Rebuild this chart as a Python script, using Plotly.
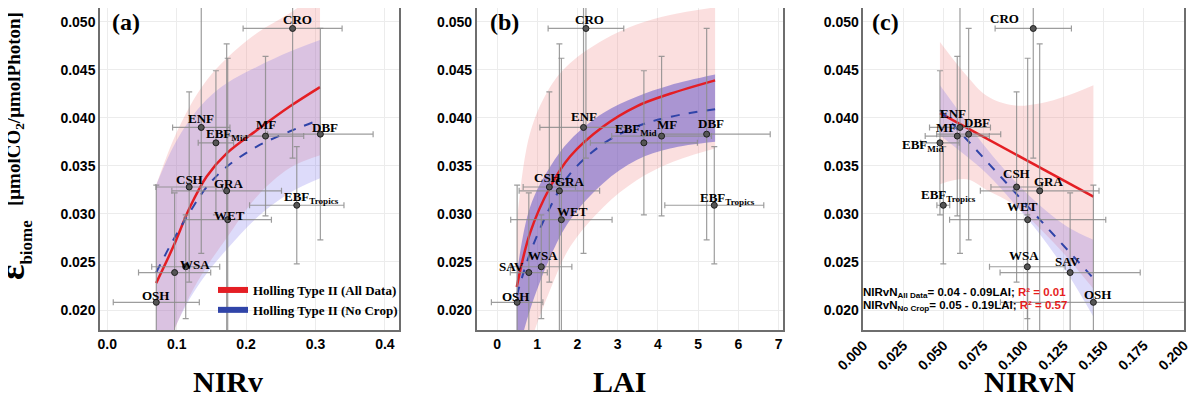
import plotly.graph_objects as go

# biome means
biomes = ["CRO", "ENF", "EBF_Mid", "MF", "DBF", "CSH", "GRA", "WET", "EBF_Tropics", "WSA", "SAV", "OSH"]
biome_text = ["CRO", "ENF", "EBF<sub>Mid</sub>", "MF", "DBF", "CSH", "GRA", "WET",
              "EBF<sub>Tropics</sub>", "WSA", "SAV", "OSH"]
eps = [0.0493, 0.0390, 0.0374, 0.0381, 0.0383, 0.0328, 0.0324, 0.0294, 0.0309, 0.0245, 0.0239, 0.0208]
eps_sd = [0.0135, 0.0131, 0.0075, 0.0083, 0.0110, 0.0099, 0.0153, 0.0168, 0.0061, 0.0054, 0.0083, 0.0122]
nirv = [0.267, 0.1354, 0.1565, 0.228, 0.307, 0.118, 0.172, 0.1735, 0.273, 0.113, 0.097, 0.0706]
nirv_sd = [0.0713, 0.0413, 0.0255, 0.055, 0.076, 0.048, 0.079, 0.063, 0.068, 0.049, 0.052, 0.062]
lai = [2.21, 2.15, 3.65, 4.09, 5.21, 1.30, 1.55, 1.60, 5.40, 1.10, 0.79, 0.50]
lai_sd = [0.94, 1.085, 1.33, 1.24, 1.58, 0.65, 1.0, 1.26, 1.23, 0.76, 0.46, 0.64]
nirvn = [0.106, 0.0603, 0.0478, 0.0586, 0.0657, 0.0956, 0.110, 0.1025, 0.0499, 0.1023, 0.129, 0.1435]
nirvn_sd = [0.0238, 0.019, 0.012, 0.02, 0.02, 0.016, 0.037, 0.0487, 0.004, 0.0236, 0.0437, 0.058]

# (a) Holling type II fits and confidence bands
fit_a_x = [0.0704, 0.0951, 0.119, 0.1432, 0.172, 0.2153, 0.2633, 0.3065]
fit_a_all = [0.0228, 0.0266, 0.0307, 0.0339, 0.0363, 0.0387, 0.0412, 0.0432]
fit_a_nocrop = [0.0239, 0.0273, 0.0302, 0.0328, 0.0349, 0.0370, 0.0386, 0.0398]
band_a_all_hi = [0.0330, 0.0377, 0.0412, 0.0439, 0.0462, 0.0488, 0.0509, 0.0532]
band_a_all_lo = [0.0125, 0.0176, 0.0215, 0.0245, 0.0275, 0.0318, 0.0348, 0.0361]
band_a_nc_hi = [0.0330, 0.0370, 0.0398, 0.0419, 0.0436, 0.0453, 0.0469, 0.0481]
band_a_nc_lo = [0.0135, 0.0178, 0.0212, 0.0238, 0.0263, 0.0296, 0.0322, 0.0337]

# (b)
fit_b_x = [0.49, 0.82, 1.32, 1.82, 2.64, 3.47, 4.30, 5.42]
fit_b_all = [0.0224, 0.0280, 0.0328, 0.0360, 0.0391, 0.0412, 0.0425, 0.0439]
fit_b_nocrop = [0.0215, 0.0259, 0.0307, 0.0342, 0.0373, 0.0391, 0.0401, 0.0409]
band_b_all_hi = [0.0290, 0.0384, 0.0432, 0.0457, 0.0481, 0.0497, 0.0507, 0.0515]
band_b_all_lo = [0.0120, 0.0165, 0.0221, 0.0266, 0.0307, 0.0335, 0.0353, 0.0368]
band_b_nc_hi = [0.0237, 0.0307, 0.0349, 0.0377, 0.0405, 0.0422, 0.0434, 0.0445]
band_b_nc_lo = [0.0150, 0.0200, 0.0255, 0.0294, 0.0332, 0.0356, 0.0368, 0.0375]

# (c) linear fits
fit_c_x = [0.0478, 0.1435]
fit_c_all = [0.0405, 0.0318]
fit_c_nocrop = [0.0408, 0.0233]
band_c_x = [0.0478, 0.0644, 0.0769, 0.0935, 0.110, 0.127, 0.1435]
band_c_all_hi = [0.0479, 0.0444, 0.0423, 0.0413, 0.0415, 0.0423, 0.0434]
band_c_all_lo = [0.0331, 0.0336, 0.0325, 0.0310, 0.0285, 0.0255, 0.0222]
band_c_nc_hi = [0.0434, 0.0396, 0.0368, 0.0336, 0.0309, 0.0287, 0.0273]
band_c_nc_lo = [0.0382, 0.0360, 0.0342, 0.0312, 0.0279, 0.0239, 0.0193]

RED = "rgb(228,30,36)"
BLUE = "rgb(48,68,168)"
PINK_FILL = "rgba(240,128,128,0.25)"
LAV_FILL = "rgba(110,100,235,0.23)"
SERIF = "Liberation Serif"
SANS = "Liberation Sans"

# label offsets in px (dx, dy up)
offs_a = {"CRO": (5, 9), "ENF": (0, 9), "EBF_Mid": (11, 8), "MF": (0, 12), "DBF": (5, 7), "CSH": (0, 8),
          "GRA": (2, 7), "WET": (2, 4), "EBF_Tropics": (15, 8), "WSA": (9, 2), "SAV": None, "OSH": (-1, 7)}
offs_b = {"CRO": (4, 9), "ENF": (0, 11), "EBF_Mid": (-8, 13), "MF": (5, 12), "DBF": (4, 11), "CSH": (-2, 10),
          "GRA": (11, 9), "WET": (11, 8), "EBF_Tropics": (13, 7), "WSA": (2, 11), "SAV": (-17, 6), "OSH": (-2, 6)}
offs_c = {"CRO": (-29, 10), "ENF": (-7, 14), "EBF_Mid": (-17, -3), "MF": (-11, 9), "DBF": (8, 12),
          "CSH": (0, 14), "GRA": (9, 9), "WET": (-5, 13), "EBF_Tropics": (5, 10), "WSA": (-3, 11),
          "SAV": (-3, 11), "OSH": (4, 8)}


# the page body adds an 8px margin; place things in target-picture pixels
def px(x):
    return (x - 8) / 1200


def py(y):
    return 1 - (y - 8) / 400


fig = go.Figure()


def add_band(xs, lo, hi, fill, xa, ya):
    fig.add_scatter(x=xs, y=lo, mode="lines", line=dict(width=0, shape="spline"),
                    xaxis=xa, yaxis=ya, showlegend=False, hoverinfo="skip")
    fig.add_scatter(x=xs, y=hi, mode="lines", line=dict(width=0, shape="spline"), fill="tonexty",
                    fillcolor=fill, xaxis=xa, yaxis=ya, showlegend=False, hoverinfo="skip")


def add_panel(xs, xsd, offs, xa, ya):
    fig.add_scatter(x=xs, y=eps, mode="markers", xaxis=xa, yaxis=ya, showlegend=False,
                    marker=dict(size=6, color="rgb(85,85,85)", line=dict(color="rgb(30,30,30)", width=1)),
                    error_x=dict(type="data", array=xsd, color="rgba(140,140,140,0.85)", thickness=1.2, width=3),
                    error_y=dict(type="data", array=eps_sd, color="rgba(140,140,140,0.85)", thickness=1.2, width=3))
    for b, t, x, y in zip(biomes, biome_text, xs, eps):
        o = offs[b]
        if o is None:
            continue
        fig.add_annotation(x=x, y=y, xref=xa, yref=ya, text=t, showarrow=False,
                           xshift=o[0], yshift=o[1], xanchor="center", yanchor="middle",
                           font=dict(family=SERIF, size=13, color="black", weight="bold"))


# panel a
add_band(fit_a_x, band_a_all_lo, band_a_all_hi, PINK_FILL, "x", "y")
add_band(fit_a_x, band_a_nc_lo, band_a_nc_hi, LAV_FILL, "x", "y")
fig.add_scatter(x=fit_a_x, y=fit_a_all, mode="lines", line=dict(color=RED, width=2.5, shape="spline"),
                xaxis="x", yaxis="y", showlegend=False)
fig.add_scatter(x=fit_a_x, y=fit_a_nocrop, mode="lines", line=dict(color=BLUE, width=2, dash="dash", shape="spline"),
                xaxis="x", yaxis="y", showlegend=False)
add_panel(nirv, nirv_sd, offs_a, "x", "y")

# panel b
add_band(fit_b_x, band_b_all_lo, band_b_all_hi, PINK_FILL, "x2", "y2")
add_band(fit_b_x, band_b_nc_lo, band_b_nc_hi, "rgba(70,60,195,0.45)", "x2", "y2")
fig.add_scatter(x=fit_b_x, y=fit_b_all, mode="lines", line=dict(color=RED, width=2.5, shape="spline"),
                xaxis="x2", yaxis="y2", showlegend=False)
fig.add_scatter(x=fit_b_x, y=fit_b_nocrop, mode="lines", line=dict(color=BLUE, width=2, dash="dash", shape="spline"),
                xaxis="x2", yaxis="y2", showlegend=False)
add_panel(lai, lai_sd, offs_b, "x2", "y2")

# panel c
add_band(band_c_x, band_c_all_lo, band_c_all_hi, PINK_FILL, "x3", "y3")
add_band(band_c_x, band_c_nc_lo, band_c_nc_hi, LAV_FILL, "x3", "y3")
fig.add_scatter(x=fit_c_x, y=fit_c_all, mode="lines", line=dict(color=RED, width=2.5),
                xaxis="x3", yaxis="y3", showlegend=False)
fig.add_scatter(x=fit_c_x, y=fit_c_nocrop, mode="lines", line=dict(color=BLUE, width=2, dash="dash"),
                xaxis="x3", yaxis="y3", showlegend=False)
add_panel(nirvn, nirvn_sd, offs_c, "x3", "y3")

# legend entries
fig.add_scatter(x=[None], y=[None], mode="lines", line=dict(color=RED, width=6), name="Holling Type II (All Data)")
fig.add_scatter(x=[None], y=[None], mode="lines", line=dict(color=BLUE, width=6), name="Holling Type II (No Crop)")

ax_common = dict(showline=True, mirror=True, linecolor="rgb(110,110,110)", linewidth=1.5, automargin=False,
                 showgrid=True, gridcolor="rgb(236,236,236)", gridwidth=1, zeroline=False, ticks="",
                 tickfont=dict(family=SANS, size=14, color="black", weight="bold"))
# top of the frame sits 8px lower than in the target, so the range starts where that row falls
y_common = dict(ax_common, range=[0.01792, 0.05143], dtick=0.005, tick0=0.02, tickformat=".3f",
                domain=[py(330), 1.0])

fig.update_layout(
    width=1200, height=400, margin=dict(l=0, r=0, t=0, b=0, autoexpand=False),
    paper_bgcolor="white", plot_bgcolor="white",
    xaxis=dict(ax_common, domain=[px(100), px(399)], range=[-0.0105, 0.4203], dtick=0.1, tick0=0,
               tickformat=".1f", anchor="y"),
    yaxis=dict(y_common, anchor="x"),
    xaxis2=dict(ax_common, domain=[px(476.7), px(783.3)], range=[-0.505, 7.115], dtick=1, tick0=0, anchor="y2"),
    yaxis2=dict(y_common, anchor="x2"),
    xaxis3=dict(ax_common, domain=[px(863.3), px(1184)], range=[0, 0.2], dtick=0.025, tick0=0,
                tickformat=".3f", tickangle=-45, anchor="y3"),
    yaxis3=dict(y_common, anchor="x3"),
    legend=dict(x=px(213), y=py(275), xanchor="left", yanchor="top", bgcolor="rgba(0,0,0,0)",
                traceorder="normal", font=dict(family=SERIF, size=13, color="black", weight="bold"),
                tracegroupgap=0),
)

# panel tags
for tag, xp in [("(a)", 126), ("(b)", 504), ("(c)", 885)]:
    fig.add_annotation(x=px(xp), y=py(22), xref="paper", yref="paper", text=tag, showarrow=False,
                       xanchor="center", yanchor="middle",
                       font=dict(family=SERIF, size=24, color="black", weight="bold"))

# axis titles
for t, xp in [("NIRv", 228), ("LAI", 619), ("NIRvN", 1030)]:
    fig.add_annotation(x=px(xp), y=py(400), xref="paper", yref="paper", text=t, showarrow=False,
                       xanchor="center", yanchor="bottom",
                       font=dict(family=SERIF, size=30, color="black", weight="bold"))

# y title, split in two so each part can sit where the target has it
fig.add_annotation(x=px(15), y=py(109), xref="paper", yref="paper", textangle=-90, showarrow=False,
                   xanchor="center", yanchor="middle",
                   text="[μmolCO<sub>2</sub>/μmolPhoton]",
                   font=dict(family=SERIF, size=19, color="black", weight="bold"))
fig.add_annotation(x=px(-10), y=py(250), xref="paper", yref="paper", textangle=-90, showarrow=False,
                   xanchor="left", yanchor="middle",
                   text="ε<sub><span style='font-size:17px'>biome</span></sub>",
                   font=dict(family=SERIF, size=36, color="black", weight="bold"))

# regression text in (c)
fig.add_annotation(x=px(861), y=py(293), xref="paper", yref="paper", xanchor="left", yanchor="middle",
                   showarrow=False,
                   text="NIRvN<sub>All Data</sub>= 0.04 - 0.09LAI; <span style='color:rgb(230,30,30)'>R² = 0.01</span>",
                   font=dict(family=SANS, size=11.5, color="black", weight="bold"))
fig.add_annotation(x=px(861), y=py(306), xref="paper", yref="paper", xanchor="left", yanchor="middle",
                   showarrow=False,
                   text="NIRvN<sub>No Crop</sub>= 0.05 - 0.19LAI; <span style='color:rgb(230,30,30)'>R² = 0.57</span>",
                   font=dict(family=SANS, size=11.5, color="black", weight="bold"))

fig.write_html("out.html")
